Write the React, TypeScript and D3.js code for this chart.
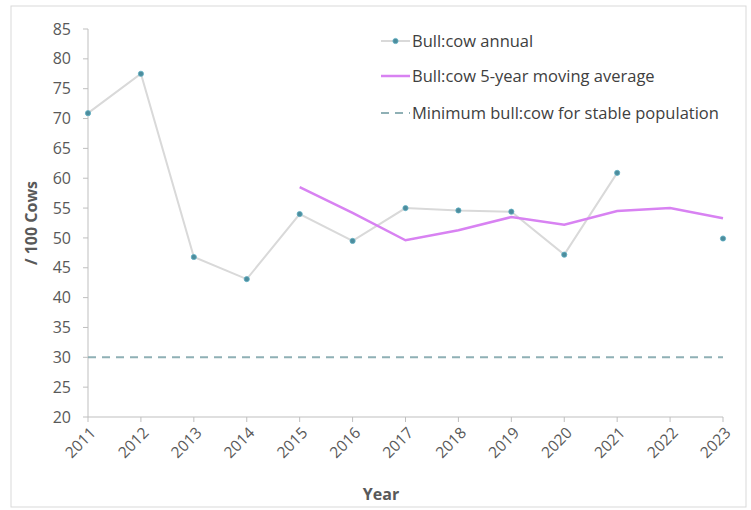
import React from "react";
import * as d3 from "d3";

const years = [2011, 2012, 2013, 2014, 2015, 2016, 2017, 2018, 2019, 2020, 2021, 2022, 2023];
const annual: (number | null)[] = [70.9, 77.5, 46.8, 43.1, 54.0, 49.5, 55.0, 54.6, 54.4, 47.2, 60.9, null, 49.9];
const movingAvg: (number | null)[] = [null, null, null, null, 58.5, 54.2, 49.6, 51.3, 53.5, 52.2, 54.5, 55.0, 53.3];
const minimum = 30;
const yTicks = [20, 25, 30, 35, 40, 45, 50, 55, 60, 65, 70, 75, 80, 85];
const legendLabels = ["Bull:cow annual", "Bull:cow 5-year moving average", "Minimum bull:cow for stable population"];

const W = 751, H = 510;
const left = 88, right = 723, top = 29, bottom = 417;
const font = "'Open Sans', 'Noto Sans', sans-serif";

export default function App() {
  const x = d3.scaleLinear().domain([2011, 2023]).range([left, right]);
  const y = d3.scaleLinear().domain([20, 85]).range([bottom, top]);
  const line = d3
    .line<number | null>()
    .defined((d) => d !== null)
    .x((_, i) => x(years[i]))
    .y((d) => y(d as number));

  const annualColor = "#d9d9d9";
  const markerColor = "#4d8c9c";
  const maColor = "#d882f2";
  const minColor = "#8fb0b5";
  const axisColor = "#bfbfbf";
  const textColor = "#595959";

  return (
    <svg width={W} height={H} style={{ position: "absolute", left: 0, top: 0 }}>
      <rect x={11} y={6} width={735} height={501} fill="#fff" stroke="#d9d9d9" strokeWidth={1} />
      {/* y axis */}
      <line x1={left} x2={left} y1={top} y2={bottom} stroke={axisColor} strokeWidth={1} />
      {yTicks.map((t) => (
        <g key={t}>
          <line x1={left - 5} x2={left} y1={y(t)} y2={y(t)} stroke={axisColor} />
          <text x={left - 17} y={y(t)} dy="0.35em" textAnchor="end" fontFamily={font} fontSize={16} fill={textColor}>
            {t}
          </text>
        </g>
      ))}
      {/* x axis */}
      <line x1={left} x2={right} y1={bottom} y2={bottom} stroke={axisColor} strokeWidth={1} />
      {years.map((yr) => (
        <g key={yr}>
          <line x1={x(yr)} x2={x(yr)} y1={bottom} y2={bottom + 5} stroke={axisColor} />
          <text
            transform={`translate(${x(yr) + 5},${bottom + 13}) rotate(-45)`}
            textAnchor="end"
            dy="0.35em"
            fontFamily={font}
            fontSize={15.5}
            fill={textColor}
          >
            {yr}
          </text>
        </g>
      ))}
      {/* minimum line */}
      <line x1={left} x2={right} y1={y(minimum)} y2={y(minimum)} stroke={minColor} strokeWidth={2} strokeDasharray="8,6" />
      {/* annual */}
      <path d={line(annual) || ""} fill="none" stroke={annualColor} strokeWidth={2} />
      {/* moving average */}
      <path d={line(movingAvg) || ""} fill="none" stroke={maColor} strokeWidth={2.5} />
      {annual.map((v, i) =>
        v === null ? null : (
          <circle key={i} cx={x(years[i])} cy={y(v)} r={2.6} fill={markerColor} stroke="#5fb0c4" strokeWidth={0.8} />
        )
      )}
      {/* axis titles */}
      <text
        transform={`translate(37,${(top + bottom) / 2}) rotate(-90)`}
        textAnchor="middle"
        fontFamily={font}
        fontWeight="bold"
        fontSize={16}
        fill={textColor}
      >
        / 100 Cows
      </text>
      <text x={381} y={500} textAnchor="middle" fontFamily={font} fontWeight="bold" fontSize={16} fill={textColor}>
        Year
      </text>
      {/* legend */}
      <g fontFamily={font} fontSize={16.5} fill="#404040">
        <line x1={381} x2={410} y1={41} y2={41} stroke={annualColor} strokeWidth={2} />
        <circle cx={395.5} cy={41} r={2.6} fill={markerColor} stroke="#5fb0c4" strokeWidth={0.8} />
        <text x={412} y={41} dy="0.35em">{legendLabels[0]}</text>
        <line x1={381} x2={410} y1={76} y2={76} stroke={maColor} strokeWidth={2.5} />
        <text x={412} y={76} dy="0.35em">{legendLabels[1]}</text>
        <line x1={381} x2={410} y1={113} y2={113} stroke={minColor} strokeWidth={2} strokeDasharray="8,6" />
        <text x={412} y={113} dy="0.35em">{legendLabels[2]}</text>
      </g>
    </svg>
  );
}
